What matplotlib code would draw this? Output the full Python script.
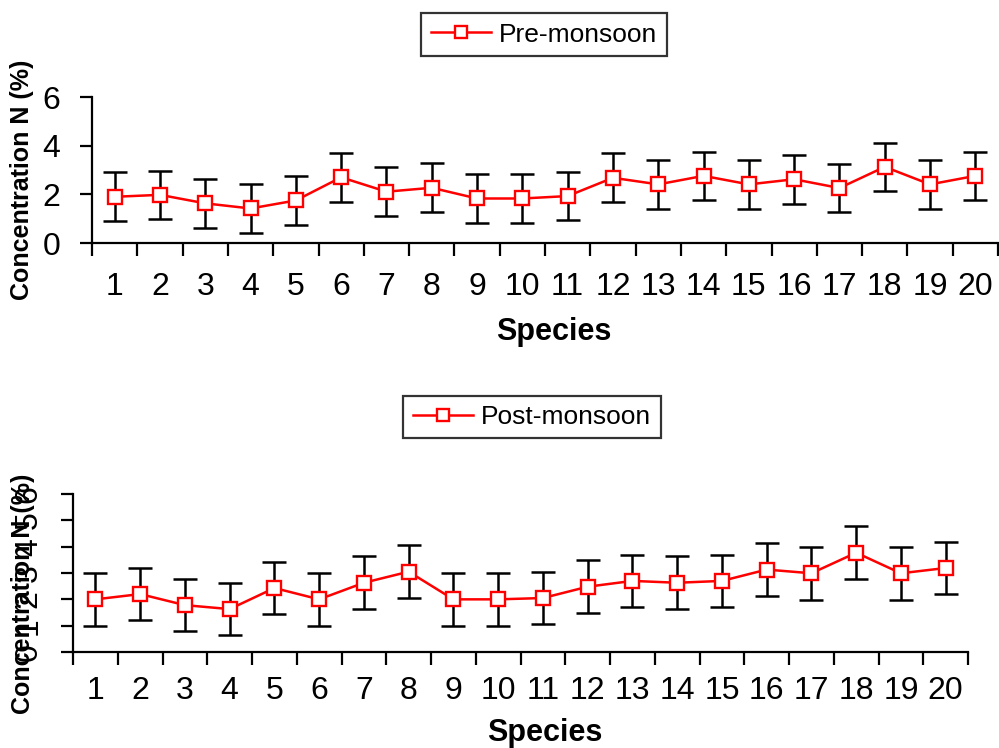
import numpy as np
import matplotlib.pyplot as plt

plt.rcParams['font.family'] = ['Liberation Sans', 'DejaVu Sans']

species = list(range(1, 21))

pre_mean = [1.90, 1.98, 1.63, 1.42, 1.75, 2.70, 2.11, 2.27, 1.83, 1.83,
            1.93, 2.68, 2.41, 2.76, 2.41, 2.62, 2.26, 3.13, 2.41, 2.76]
pre_err = [1.0] * 20

post_mean = [2.00, 2.20, 1.78, 1.63, 2.43, 2.00, 2.63, 3.05, 2.00, 2.00,
             2.05, 2.48, 2.70, 2.63, 2.70, 3.13, 2.99, 3.77, 2.99, 3.19]
post_err = [1.0] * 20

fig = plt.figure(figsize=(9.99, 7.48), dpi=100)

ax1 = fig.add_axes([0.0921, 0.6751, 0.9069, 0.1952])
ax2 = fig.add_axes([0.0731, 0.1283, 0.8959, 0.2113])


def draw(ax, mean, err, label, ymax, ystep):
    x = np.array(species)
    ax.errorbar(x, mean, yerr=err, fmt='none', ecolor='black', elinewidth=1.8,
                capsize=8.5, capthick=1.8, zorder=2)
    ax.plot(x, mean, color='red', lw=1.8, marker='s', markersize=10,
            markerfacecolor='white', markeredgecolor='red', markeredgewidth=1.7,
            label=label, zorder=3)
    ax.set_xlim(0.5, 20.5)
    ax.set_ylim(0, ymax)
    ax.set_yticks(np.arange(0, ymax + 0.01, ystep))
    ax.set_xticks(x)
    ax.set_xticks(np.arange(0.5, 21, 1), minor=True)
    ax.tick_params(axis='x', which='major', length=0, labelsize=23)
    ax.tick_params(axis='x', which='minor', length=9, width=1.6, direction='out')
    ax.tick_params(axis='y', length=9, width=1.6, direction='out', labelsize=23)
    for s in ['top', 'right']:
        ax.spines[s].set_visible(False)
    for s in ['left', 'bottom']:
        ax.spines[s].set_linewidth(1.6)


def add_legend(ax, cx, cy):
    leg = ax.legend(loc='center', bbox_to_anchor=(cx / 999, 1 - cy / 748),
                    bbox_transform=fig.transFigure, fontsize=19, frameon=True,
                    fancybox=False, edgecolor='black', handlelength=2.3,
                    handletextpad=0.3, borderpad=0.35, markerscale=0.9)
    leg.get_frame().set_linewidth(1.6)
    return leg


draw(ax1, pre_mean, pre_err, 'Pre-monsoon', 6, 2)
ax1.tick_params(axis='x', which='major', pad=21)
ax1.tick_params(axis='y', pad=14)
ax1.set_xlabel('Species', fontsize=22, fontweight='bold')
ax1.xaxis.set_label_coords(0.51, -0.51)
ax1.set_ylabel('Concentration N (%)', fontsize=18, fontweight='bold')
ax1.yaxis.set_label_coords(-0.064, 0.43)
add_legend(ax1, 544, 34.5)

draw(ax2, post_mean, post_err, 'Post-monsoon', 6, 1)
ax2.tick_params(axis='x', which='major', pad=17)
ax2.tick_params(axis='y', pad=12)
for t in ax2.get_yticklabels():
    t.set_rotation(90)
    t.set_va('center')
ax2.set_xlabel('Species', fontsize=22, fontweight='bold')
ax2.xaxis.set_label_coords(0.527, -0.42)
ax2.set_ylabel('Concentration N (%)', fontsize=18, fontweight='bold')
ax2.yaxis.set_label_coords(-0.0425, 0.367)
add_legend(ax2, 532, 417)

fig.savefig('out.png', dpi=100)
